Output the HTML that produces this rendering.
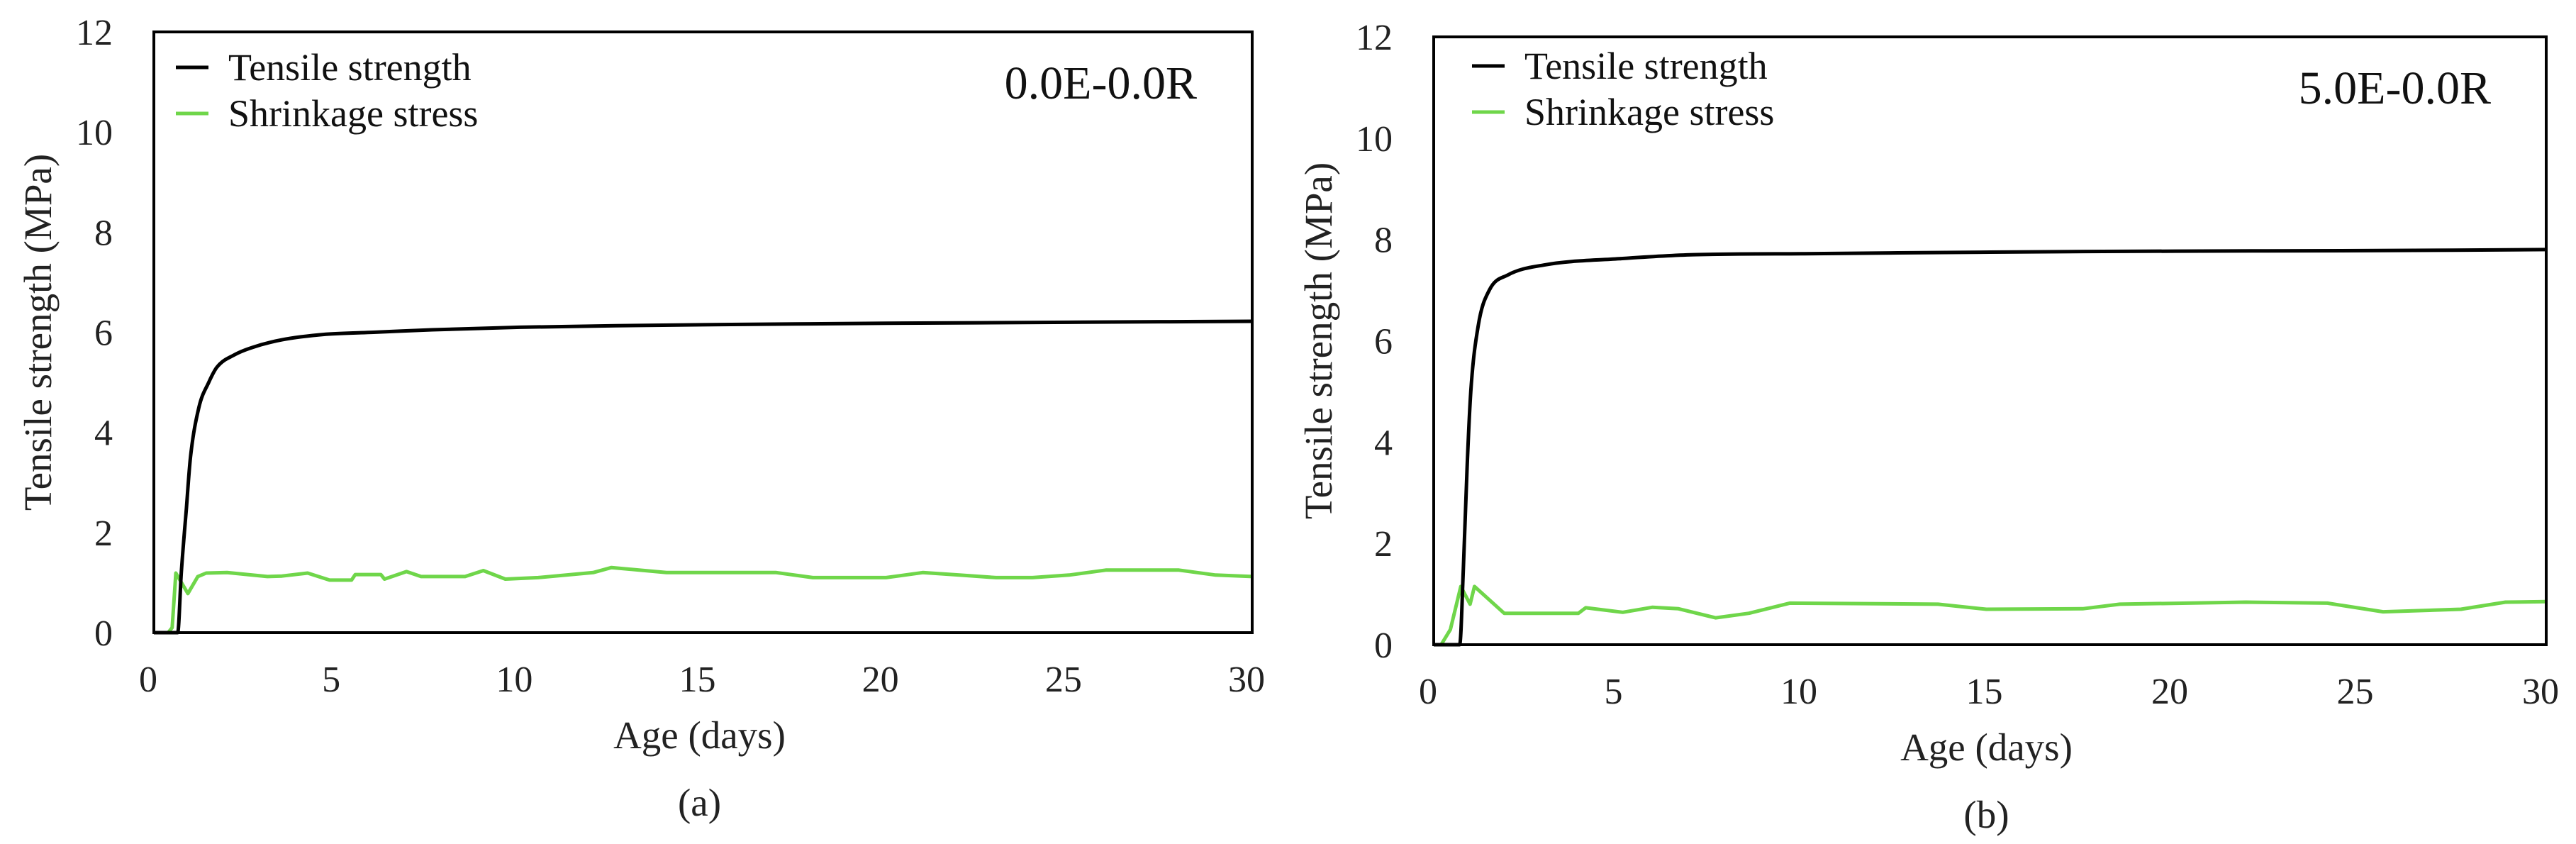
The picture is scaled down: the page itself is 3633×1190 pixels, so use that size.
<!DOCTYPE html>
<html><head><meta charset="utf-8"><style>
html,body{margin:0;padding:0;background:#fff;}
svg{display:block;font-family:"Liberation Serif",serif;}
</style></head><body>
<svg id="fig" width="3633" height="1190" viewBox="0 0 3633 1190" xmlns="http://www.w3.org/2000/svg"></svg>
<script>
const xTicks = [0,5,10,15,20,25,30];
const yTicks = [0,2,4,6,8,10,12];
// Panel (a) data
const aTensileDays = [0,0.65,0.75,0.89,1.0,1.23,1.5,1.72,2.2,2.7,3.5,4.7,6,7.6,10,15,20,25,30];
const aTensileVals = [0,0,1.2,2.5,3.5,4.5,5.0,5.3,5.55,5.7,5.85,5.96,6.0,6.05,6.1,6.15,6.18,6.2,6.22];
const aShrinkDays = [0.39,0.5,0.6,0.93,1.2,1.43,2,3.1,3.5,4.2,4.8,5.4,5.5,6.2,6.3,6.9,7.3,8.5,9.0,9.6,10.5,12,12.5,14,17,18,20,21,22,23,24,25,26,28,29,30];
const aShrinkVals = [0,0.1,1.19,0.78,1.12,1.19,1.2,1.12,1.13,1.19,1.05,1.05,1.16,1.16,1.07,1.22,1.12,1.12,1.24,1.07,1.1,1.2,1.3,1.2,1.2,1.1,1.1,1.2,1.15,1.1,1.1,1.15,1.25,1.25,1.15,1.12];
// Panel (b) data
const bTensileDays = [0,0.7,0.8,0.9,1.0,1.2,1.5,2,3,5,7,10,15,20,25,30];
const bTensileVals = [0,0,1.5,3.5,5.0,6.3,7.0,7.3,7.5,7.62,7.7,7.72,7.75,7.77,7.78,7.8];
const bShrinkDays = [0.2,0.45,0.73,0.98,1.1,1.9,3.9,4.1,5.1,5.9,6.6,7.6,8.5,9.6,13.6,14.9,17.5,18.5,21.9,24.1,25.6,27.7,28.9,30];
const bShrinkVals = [0,0.3,1.15,0.8,1.15,0.62,0.62,0.73,0.64,0.74,0.71,0.53,0.62,0.82,0.8,0.7,0.71,0.8,0.84,0.82,0.65,0.7,0.84,0.85];

const NS="http://www.w3.org/2000/svg";
const svg=document.getElementById('fig');
function mk(tag,attrs,parent){const e=document.createElementNS(NS,tag);for(const k in attrs)e.setAttribute(k,attrs[k]);(parent||svg).appendChild(e);return e;}

// monotone cubic (Fritsch-Carlson) path in pixel space
function monoPath(pts){
  const n=pts.length, dx=[], m=[], t=[];
  for(let i=0;i<n-1;i++){dx.push(pts[i+1][0]-pts[i][0]);m.push((pts[i+1][1]-pts[i][1])/dx[i]);}
  t[0]=m[0]; t[n-1]=m[n-2];
  for(let i=1;i<n-1;i++){ t[i]=(m[i-1]*m[i]<=0)?0:(m[i-1]+m[i])/2; }
  for(let i=0;i<n-1;i++){
    if(m[i]===0){t[i]=0;t[i+1]=0;continue;}
    const a=t[i]/m[i],b=t[i+1]/m[i],s=a*a+b*b;
    if(s>9){const k=3/Math.sqrt(s);t[i]=k*a*m[i];t[i+1]=k*b*m[i];}
  }
  let d='M'+pts[0][0].toFixed(1)+','+pts[0][1].toFixed(1);
  for(let i=0;i<n-1;i++){
    const h=dx[i]/3;
    d+='C'+(pts[i][0]+h).toFixed(1)+','+(pts[i][1]+t[i]*h).toFixed(1)+' '+(pts[i+1][0]-h).toFixed(1)+','+(pts[i+1][1]-t[i+1]*h).toFixed(1)+' '+pts[i+1][0].toFixed(1)+','+pts[i+1][1].toFixed(1);
  }
  return d;
}

function panel(p){
  const g=mk('g',{});
  
  
  const X=d=>p.x0+(d-0)/30*(p.x1-p.x0);
  const Y=v=>p.y0-(v/12)*(p.y0-p.y1);
  yTicks.forEach(t=>{
    const e=mk('text',{x:p.x0-58,y:Y(t)+18,'font-size':52,'text-anchor':'end',fill:'#222'},g);
    e.textContent=t;
    
    
  });
  xTicks.forEach(t=>{
    const e=mk('text',{x:X(t)-8,y:p.y0+83,'font-size':52,'text-anchor':'middle',fill:'#222'},g);
    e.textContent=t;
    
    
  });
  const xt=mk('text',{x:(p.x0+p.x1)/2-5,y:p.y0+163,'font-size':55,'text-anchor':'middle',fill:'#222'},g);
  xt.textContent='Age (days)';
  
  
  const yt=mk('text',{x:0,y:0,'font-size':55,'text-anchor':'middle',fill:'#222',transform:`translate(${p.ytx},${(p.y0+p.y1)/2}) rotate(-90)`},g);
  yt.textContent='Tensile strength (MPa)';
  
  
  const cap=mk('text',{x:(p.x0+p.x1)/2-5,y:p.y0+258,'font-size':55,'text-anchor':'middle',fill:'#222'},g);
  cap.textContent=p.caption;
  
  
  const path=(ds,vs)=>ds.map((d,i)=>(i?'L':'M')+X(d).toFixed(1)+','+Y(vs[i]).toFixed(1)).join('');
  const sh=mk('path',{d:path(p.sd,p.sv),fill:'none',stroke:'#6fd64a','stroke-width':5,'stroke-linejoin':'round'},g);
  
  
  const te=mk('path',{d:monoPath(p.td.map((d,i)=>[X(d),Y(p.tv[i])])),fill:'none',stroke:'#000','stroke-width':5,'stroke-linejoin':'round'},g);
  
  
  const fr=mk('rect',{x:p.x0,y:p.y1,width:p.x1-p.x0,height:p.y0-p.y1,fill:'none',stroke:'#000','stroke-width':4},g);
  
  
  const lg=mk('g',{},g);
  
  
  [['Tensile strength','#000',p.ly],['Shrinkage stress','#6fd64a',p.ly+65]].forEach(([t,c,y])=>{
    const l=mk('line',{x1:p.lx,x2:p.lx+46,y1:y,y2:y,stroke:c,'stroke-width':5},lg);
    
    
    const tx=mk('text',{x:p.lx+74,y:y+18,'font-size':54,fill:'#111'},lg);
    tx.textContent=t;
    
    
  });
  const lab=mk('text',{x:p.x1-78,y:p.y1+94,'font-size':66,'text-anchor':'end',fill:'#111'},g);
  lab.textContent=p.label;
  
  
}
panel({name:'panel-a',x0:217,x1:1766,y0:892,y1:45,ytx:72,lx:248,ly:95,caption:'(a)',label:'0.0E-0.0R',
  td:aTensileDays,tv:aTensileVals,sd:aShrinkDays,sv:aShrinkVals});
panel({name:'panel-b',x0:2022,x1:3591,y0:909,y1:52,ytx:1878,lx:2076,ly:93,caption:'(b)',label:'5.0E-0.0R',
  td:bTensileDays,tv:bTensileVals,sd:bShrinkDays,sv:bShrinkVals});
</script>
</body></html>
